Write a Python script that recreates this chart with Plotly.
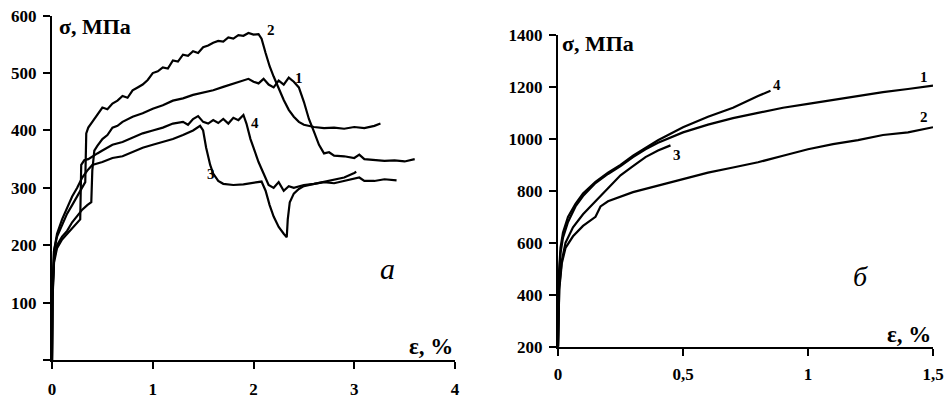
import plotly.graph_objects as go

# ---------------- Panel "а" (left) ----------------
a_c2_x = [0, 0.005, 0.02, 0.05, 0.1, 0.15, 0.2, 0.25, 0.3, 0.33, 0.34, 0.36, 0.4, 0.45, 0.5, 0.55, 0.6, 0.65, 0.7, 0.75,
          0.8, 0.85, 0.9, 0.95, 1.0, 1.05, 1.1, 1.15, 1.2, 1.25, 1.3, 1.35, 1.4, 1.45, 1.5, 1.55, 1.6, 1.65, 1.7, 1.75,
          1.8, 1.85, 1.9, 1.95, 2.0, 2.05, 2.08, 2.12, 2.16, 2.2, 2.25, 2.3, 2.35, 2.4, 2.45, 2.5, 2.6, 2.7, 2.8, 2.9,
          3.0, 3.1, 3.2, 3.26]
a_c2_y = [0, 120, 190, 215, 235, 255, 270, 285, 300, 310, 395, 405, 415, 428, 440, 437, 447, 452, 460, 457,
          470, 475, 480, 488, 500, 503, 510, 508, 522, 520, 532, 530, 538, 535, 545, 548, 553, 556, 555, 562,
          560, 566, 565, 570, 567, 568, 560, 535, 512, 494, 472, 453, 436, 424, 415, 410, 406, 404, 405, 403,
          406, 404, 408, 412]

a_c1_x = [0, 0.005, 0.02, 0.05, 0.1, 0.15, 0.2, 0.25, 0.3, 0.35, 0.39, 0.4, 0.42, 0.45, 0.5, 0.55, 0.6, 0.65, 0.7,
          0.8, 0.9, 1.0, 1.1, 1.2, 1.3, 1.4, 1.5, 1.6, 1.7, 1.8, 1.9, 1.95, 2.0, 2.05, 2.1, 2.15, 2.2, 2.25, 2.3,
          2.35, 2.4, 2.45, 2.5, 2.55, 2.6, 2.65, 2.7, 2.75, 2.8, 2.9, 3.0, 3.05, 3.1, 3.2, 3.3, 3.4, 3.5, 3.6]
a_c1_y = [0, 110, 175, 200, 215, 225, 240, 252, 262, 270, 275, 330, 365, 373, 385, 392, 405, 408, 415,
          424, 430, 438, 444, 452, 456, 462, 466, 470, 476, 482, 487, 490, 485, 482, 490, 480, 475, 487, 480,
          492, 485, 475, 450, 420, 398, 375, 360, 362, 356, 355, 352, 358, 350, 348, 347, 348, 346, 350]

a_c4_x = [0, 0.005, 0.02, 0.05, 0.1, 0.15, 0.2, 0.25, 0.28, 0.29, 0.32, 0.36, 0.4, 0.45, 0.5, 0.6, 0.7, 0.8, 0.9,
          1.0, 1.1, 1.2, 1.3, 1.35, 1.4, 1.45, 1.5, 1.55, 1.6, 1.65, 1.7, 1.75, 1.8, 1.85, 1.9, 1.93, 1.97, 2.0,
          2.05, 2.1, 2.15, 2.2, 2.25, 2.3, 2.35, 2.4, 2.5, 2.6, 2.7, 2.8, 2.9, 3.0, 3.05, 3.1, 3.2, 3.3, 3.42]
a_c4_y = [0, 105, 170, 195, 210, 220, 230, 240, 245, 340, 348, 350, 355, 360, 365, 375, 380, 388, 395,
          400, 405, 412, 415, 410, 420, 425, 415, 412, 418, 413, 420, 412, 422, 418, 427, 412, 385, 370,
          345, 325, 305, 300, 310, 295, 303, 300, 305, 307, 310, 308, 312, 316, 318, 312, 312, 315, 313]

a_c3_x = [0, 0.005, 0.02, 0.05, 0.1, 0.15, 0.2, 0.25, 0.3, 0.35, 0.4, 0.5, 0.6, 0.7, 0.8, 0.9, 1.0, 1.1, 1.2,
          1.3, 1.4, 1.47, 1.5, 1.53, 1.57, 1.6, 1.65, 1.7, 1.8, 1.9, 2.0, 2.08, 2.12, 2.16, 2.2, 2.25, 2.3, 2.33,
          2.34, 2.36, 2.4, 2.45, 2.5, 2.6, 2.7, 2.8, 2.9, 3.0, 3.02]
a_c3_y = [0, 115, 190, 220, 245, 265, 285, 300, 318, 330, 340, 345, 352, 355, 362, 370, 375, 380, 385,
          392, 400, 408, 400, 370, 340, 325, 312, 307, 305, 306, 309, 311, 295, 270, 250, 232, 220, 214,
          245, 275, 290, 298, 303, 307, 311, 314, 318, 326, 328]

a_xticks = [0, 1, 2, 3, 4]
a_xticktext = ["0", "1", "2", "3", "4"]
a_yticks = [0, 100, 200, 300, 400, 500, 600]
a_yticktext = ["", "100", "200", "300", "400", "500", "600"]

# ---------------- Panel "б" (right) ----------------
b_c1_x = [0, 0.003, 0.01, 0.02, 0.04, 0.07, 0.1, 0.15, 0.2, 0.25, 0.3, 0.35, 0.4, 0.5, 0.6, 0.7, 0.8, 0.9,
          1.0, 1.1, 1.2, 1.3, 1.4, 1.45, 1.5]
b_c1_y = [200, 450, 560, 620, 680, 740, 780, 830, 865, 895, 930, 960, 985, 1025, 1055, 1080, 1100, 1120,
          1135, 1150, 1165, 1180, 1192, 1198, 1205]

b_c4_x = [0, 0.003, 0.01, 0.02, 0.04, 0.07, 0.1, 0.15, 0.2, 0.25, 0.3, 0.35, 0.4, 0.45, 0.5, 0.6, 0.7, 0.8, 0.85]
b_c4_y = [200, 470, 580, 640, 700, 750, 790, 835, 870, 900, 935, 965, 995, 1020, 1045, 1085, 1120, 1165, 1185]

b_c3_x = [0, 0.005, 0.015, 0.03, 0.06, 0.1, 0.15, 0.2, 0.25, 0.3, 0.35, 0.4, 0.45]
b_c3_y = [200, 430, 530, 600, 660, 710, 760, 810, 860, 895, 930, 955, 975]

b_c2_x = [0, 0.005, 0.015, 0.03, 0.06, 0.1, 0.15, 0.17, 0.2, 0.3, 0.4, 0.5, 0.6, 0.7, 0.8, 0.9, 1.0, 1.1,
          1.2, 1.3, 1.4, 1.5]
b_c2_y = [200, 420, 520, 580, 625, 665, 700, 740, 760, 795, 820, 845, 870, 890, 910, 935, 960, 980,
          995, 1015, 1025, 1045]

b_xticks = [0, 0.5, 1, 1.5]
b_xticktext = ["0", "0,5", "1", "1,5"]
b_yticks = [200, 400, 600, 800, 1000, 1200, 1400]
b_yticktext = ["200", "400", "600", "800", "1000", "1200", "1400"]

FONT = "Liberation Serif"
line = dict(color="black", width=2.2)

fig = go.Figure()
for xs, ys in [(a_c2_x, a_c2_y), (a_c1_x, a_c1_y), (a_c4_x, a_c4_y), (a_c3_x, a_c3_y)]:
    fig.add_trace(go.Scatter(x=xs, y=ys, mode="lines", line=line, xaxis="x", yaxis="y",
                             showlegend=False, hoverinfo="skip"))
for xs, ys in [(b_c1_x, b_c1_y), (b_c4_x, b_c4_y), (b_c3_x, b_c3_y), (b_c2_x, b_c2_y)]:
    fig.add_trace(go.Scatter(x=xs, y=ys, mode="lines", line=line, xaxis="x2", yaxis="y2",
                             showlegend=False, hoverinfo="skip"))

tickfont = dict(family=FONT, size=17, color="black", weight="bold")
common = dict(showline=True, linecolor="black", linewidth=2, ticks="outside", ticklen=7, tickwidth=2,
              tickcolor="black", showgrid=False, zeroline=False, automargin=False, tickfont=tickfont)

fig.update_layout(
    width=947, height=405, autosize=False,
    margin=dict(l=0, r=0, t=0, b=0),
    paper_bgcolor="white", plot_bgcolor="white",
    font=dict(family=FONT, color="black"),
    xaxis=dict(domain=[52/947, 455/947], range=[0, 4], tickvals=a_xticks, ticktext=a_xticktext,
               anchor="y", ticklabelstandoff=6, **common),
    yaxis=dict(domain=[(405-360)/405, (405-15.7)/405], range=[0, 600], tickvals=a_yticks,
               ticktext=a_yticktext, anchor="x", ticklabelstandoff=3, **common),
    xaxis2=dict(domain=[558/947, 933/947], range=[0, 1.5], tickvals=b_xticks, ticktext=b_xticktext,
                anchor="y2", ticklabelstandoff=4, **common),
    yaxis2=dict(domain=[(405-346.7)/405, (405-35)/405], range=[200, 1400], tickvals=b_yticks,
                ticktext=b_yticktext, anchor="x2", ticklabelstandoff=3, **common),
)

def ann(text, x, y, xref, yref, size, xanchor="center", bold=True, italic=False):
    fig.add_annotation(text=text, x=x, y=y, xref=xref, yref=yref, showarrow=False,
                       xanchor=xanchor, yanchor="middle",
                       font=dict(family=FONT, size=size, color="black",
                                 weight="bold" if bold else "normal",
                                 style="italic" if italic else "normal"))

# panel а labels
ann("σ, МПа", 0.05, 582, "x", "y", 22, xanchor="left")
ann("ε, %", 4.0, 24, "x", "y", 23, xanchor="right")
ann("2", 2.17, 575, "x", "y", 15)
ann("1", 2.45, 492, "x", "y", 15)
ann("4", 2.01, 413, "x", "y", 15)
ann("3", 1.58, 324, "x", "y", 15)
ann("а", 3.33, 160, "x", "y", 30, bold=False, italic=True)

# panel б labels
ann("σ, МПа", 0.008, 1366, "x2", "y2", 22, xanchor="left")
ann("ε, %", 1.5, 247, "x2", "y2", 23, xanchor="right")
ann("4", 0.875, 1208, "x2", "y2", 15)
ann("1", 1.465, 1238, "x2", "y2", 15)
ann("2", 1.465, 1085, "x2", "y2", 15)
ann("3", 0.475, 938, "x2", "y2", 15)
ann("б", 1.21, 472, "x2", "y2", 28, bold=False, italic=True)

fig.write_html("out.html", config={"displayModeBar": False},
               post_script="document.body.style.margin='0';")
